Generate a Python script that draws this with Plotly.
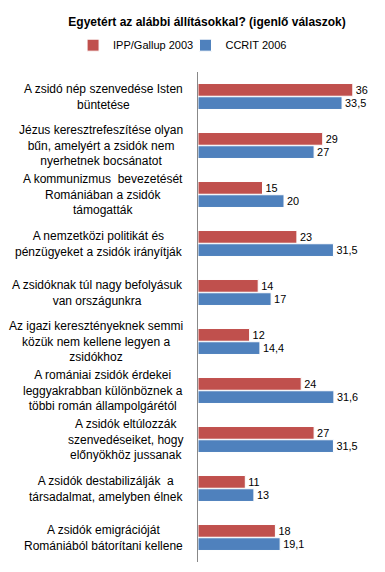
import plotly.graph_objects as go

categories = [
    "A zsidó nép szenvedése Isten<br>büntetése",
    "Jézus keresztrefeszítése olyan<br>bűn, amelyért a zsidók nem<br>nyerhetnek bocsánatot",
    "A kommunizmus  bevezetését<br>Romániában a zsidók<br>támogatták",
    "A nemzetközi politikát és<br>pénzügyeket a zsidók irányítják",
    "A zsidóknak túl nagy befolyásuk<br>van országunkra",
    "Az igazi keresztényeknek semmi<br>közük nem kellene legyen a<br>zsidókhoz",
    "A romániai zsidók érdekei<br>leggyakrabban különböznek a<br>többi román állampolgárétól",
    "A zsidók eltúlozzák<br>szenvedéseiket, hogy<br>előnyökhöz jussanak",
    "A zsidók destabilizálják  a<br>társadalmat, amelyben élnek",
    "A zsidók emigrációját<br>Romániából bátorítani kellene",
]
ipp_2003 = [36, 29, 15, 23, 14, 12, 24, 27, 11, 18]
ccrit_2006 = [33.5, 27, 20, 31.5, 17, 14.4, 31.6, 31.5, 13, 19.1]
series_names = ["IPP/Gallup 2003", "CCRIT 2006"]
colors = ["#C0504D", "#4F81BD"]

ids = list(range(len(categories)))

def fmt(v):
    s = f"{v:g}"
    return s.replace(".", ",")

fig = go.Figure()
for k, (name, vals, col) in enumerate(zip(series_names, [ipp_2003, ccrit_2006], colors)):
    fig.add_trace(go.Bar(
        y=ids, x=vals, name=name, orientation="h",
        marker=dict(color=col, line=dict(color="white", width=1)),
        text=[fmt(v) for v in vals], textposition="outside",
        textfont=dict(size=12, color="black", family="Liberation Sans"),
        cliponaxis=False,
        legend="legend" if k == 0 else "legend2",
    ))

annotations = []
for i, c in zip(ids, categories):
    annotations.append(dict(
        x=0, xref="paper", y=i, yref="y", text=c, showarrow=False,
        xanchor="right", yanchor="middle", align="center", xshift=-13,
        font=dict(size=12, color="black", family="Liberation Sans"),
    ))

leg_common = dict(orientation="h", xref="container", yref="container",
                  xanchor="left", y=0.935, yanchor="middle",
                  font=dict(size=11, color="black", family="Liberation Sans"),
                  bgcolor="rgba(0,0,0,0)")

fig.update_layout(
    width=385, height=572,
    margin=dict(l=190, r=23, t=64, b=18, autoexpand=False),
    paper_bgcolor="white", plot_bgcolor="white",
    barmode="group", bargap=0.46, bargroupgap=0.04,
    title=dict(text="<b>Egyetért az alábbi állításokkal? (igenlő válaszok)</b>",
               x=0.517, xanchor="center", xref="container",
               y=0.9755, yanchor="middle", yref="container",
               font=dict(size=12, color="black", family="Liberation Sans")),
    legend=dict(x=0.169, **leg_common),
    legend2=dict(x=0.461, **leg_common),
    showlegend=True,
    annotations=annotations,
    xaxis=dict(range=[0, 40], visible=False),
    yaxis=dict(showticklabels=False, showgrid=False,
               showline=True, linecolor="#888888", linewidth=1, ticks="",
               range=[9.5, -0.5], zeroline=False),
)

fig.write_html("out.html")
